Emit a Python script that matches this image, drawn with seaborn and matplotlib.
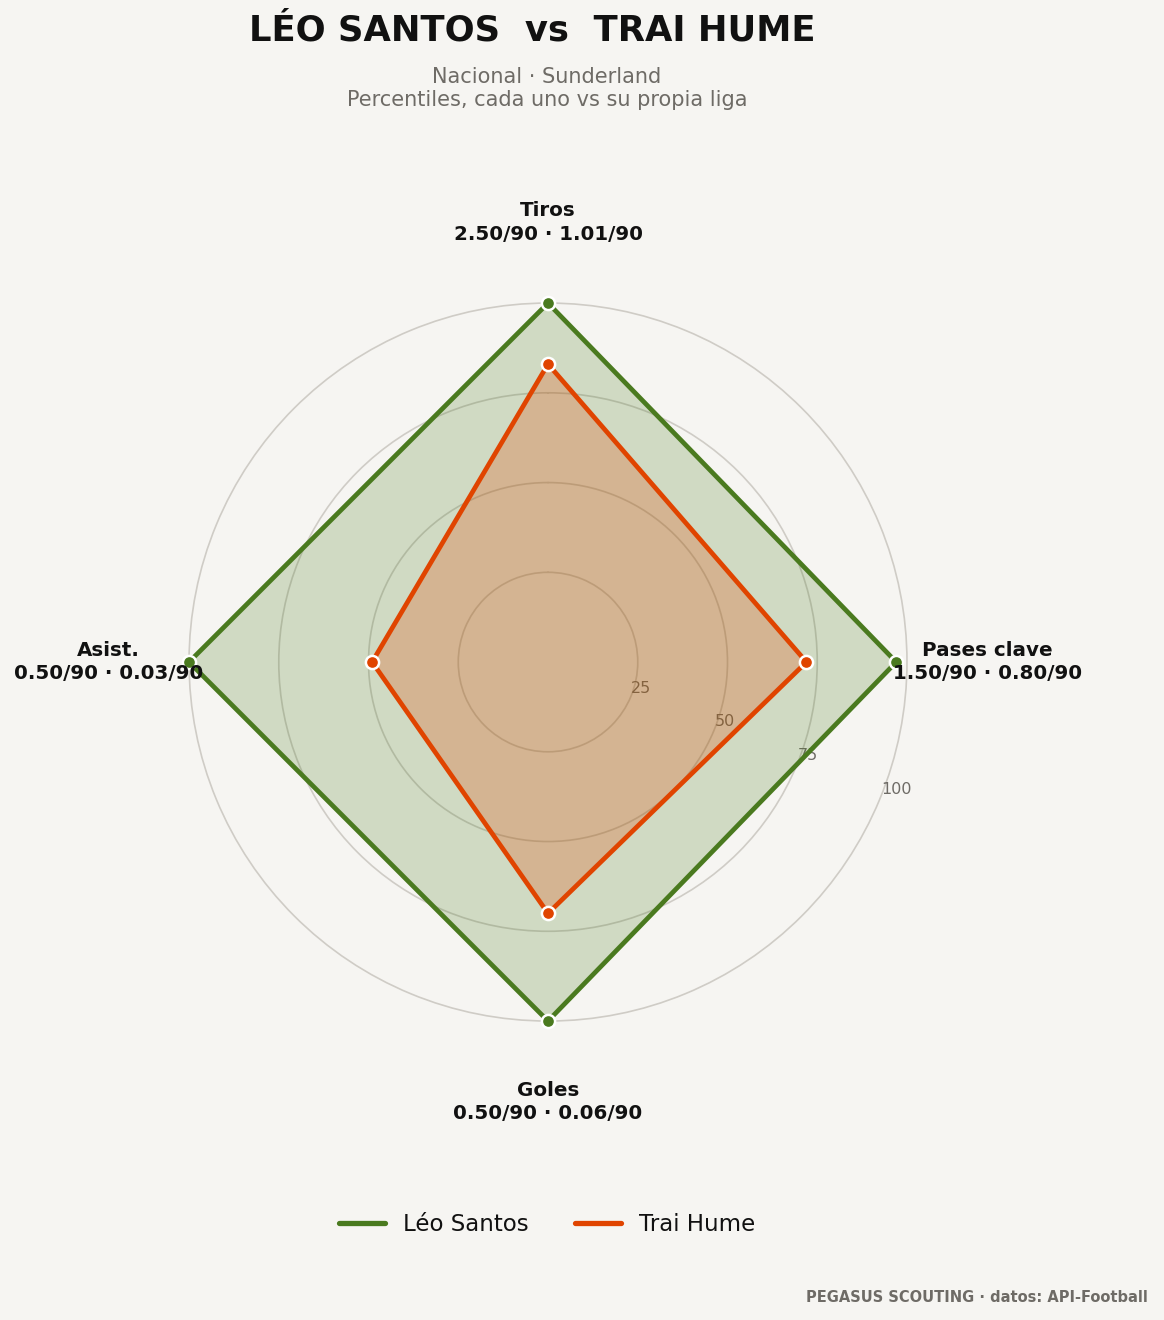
import numpy as np
import pandas as pd
import matplotlib
matplotlib.use("Agg")
import matplotlib.pyplot as plt
from matplotlib.lines import Line2D
import seaborn as sns

# ── data ───────────────────────────────────────────────
METRICS = ["Tiros", "Pases clave", "Goles", "Asist."]
PER90_A = ["2.50/90", "1.50/90", "0.50/90", "0.50/90"]
PER90_B = ["1.01/90", "0.80/90", "0.06/90", "0.03/90"]
PLAYERS = ["Léo Santos", "Trai Hume"]
PCT_A = [100, 97, 100, 100]
PCT_B = [83, 72, 70, 49]
RTICKS = [25, 50, 75, 100]

BG = "#f6f5f2"
GREEN = "#4a7a1f"
ORANGE = "#e04400"

sns.set_theme(style="white")
plt.rcParams["font.family"] = ["DejaVu Sans"]

fig = plt.figure(figsize=(11.64, 13.2), dpi=100, facecolor=BG)
ax = fig.add_axes([0.1624, 0.2265, 0.6168, 0.5439], projection="polar")
ax.set_facecolor(BG)
ax.set_theta_offset(np.pi / 2)
ax.set_theta_direction(-1)

angles = np.deg2rad(np.arange(len(METRICS)) * 360 / len(METRICS))
closed = np.append(angles, angles[0])

rows = []
for name, vals in zip(PLAYERS, [PCT_A, PCT_B]):
    for t, v in zip(closed, vals + vals[:1]):
        rows.append({"player": name, "theta": t, "pct": v})
df = pd.DataFrame(rows)

for name, col, alpha in zip(PLAYERS, [GREEN, ORANGE], [0.22, 0.25]):
    sub = df[df.player == name]
    ax.fill(sub.theta, sub.pct, color=col, alpha=alpha, zorder=2, clip_on=False)
    sns.lineplot(data=sub, x="theta", y="pct", sort=False, estimator=None,
                 color=col, linewidth=3.4, ax=ax, zorder=3, legend=False,
                 clip_on=False)
    ax.scatter(sub.theta[:-1], sub.pct[:-1], s=90, color=col,
               edgecolor="white", linewidth=1.8, zorder=4, clip_on=False)

ax.set_ylim(0, 100)
ax.set_yticks(RTICKS)
ax.set_yticklabels([str(t) for t in RTICKS], color="#6e6b66", fontsize=11.5)
ax.set_rlabel_position(112)
ax.yaxis.grid(True, color="#cfccc6", linewidth=1.2)
for gl in ax.yaxis.get_gridlines():
    gl.set_clip_on(False)
ax.xaxis.grid(False)
ax.set_xticks(angles)
ax.set_xticklabels([])
ax.spines["polar"].set_visible(False)
ax.set_xlabel("")
ax.set_ylabel("")

for t, m, a, b in zip(angles, METRICS, PER90_A, PER90_B):
    ax.text(t, 122.5, f"{m}\n{a} · {b}", ha="center", va="center",
            fontsize=14.3, fontweight="bold", color="#111111",
            linespacing=1.3, clip_on=False, zorder=5)

fig.text(0.457, 0.977, "LÉO SANTOS  vs  TRAI HUME", ha="center", va="center",
         fontsize=25.5, fontweight="bold", color="#111111")
fig.text(0.470, 0.933, "Nacional · Sunderland\nPercentiles, cada uno vs su propia liga",
         ha="center", va="center", fontsize=15, color="#6e6b66", linespacing=1.15)

handles = [Line2D([0], [0], color=GREEN, lw=3.8),
           Line2D([0], [0], color=ORANGE, lw=3.8)]
leg = fig.legend(handles, PLAYERS, loc="center", bbox_to_anchor=(0.470, 0.0727),
                 ncol=2, frameon=False, fontsize=16.5, handlelength=2.0,
                 columnspacing=2.0)
for txt in leg.get_texts():
    txt.set_color("#111111")

fig.text(0.986, 0.0174, "PEGASUS SCOUTING · datos: API-Football", ha="right",
         va="center", fontsize=10.5, fontweight="bold", color="#6e6b66")

fig.savefig("out.png", dpi=100, facecolor=BG)
